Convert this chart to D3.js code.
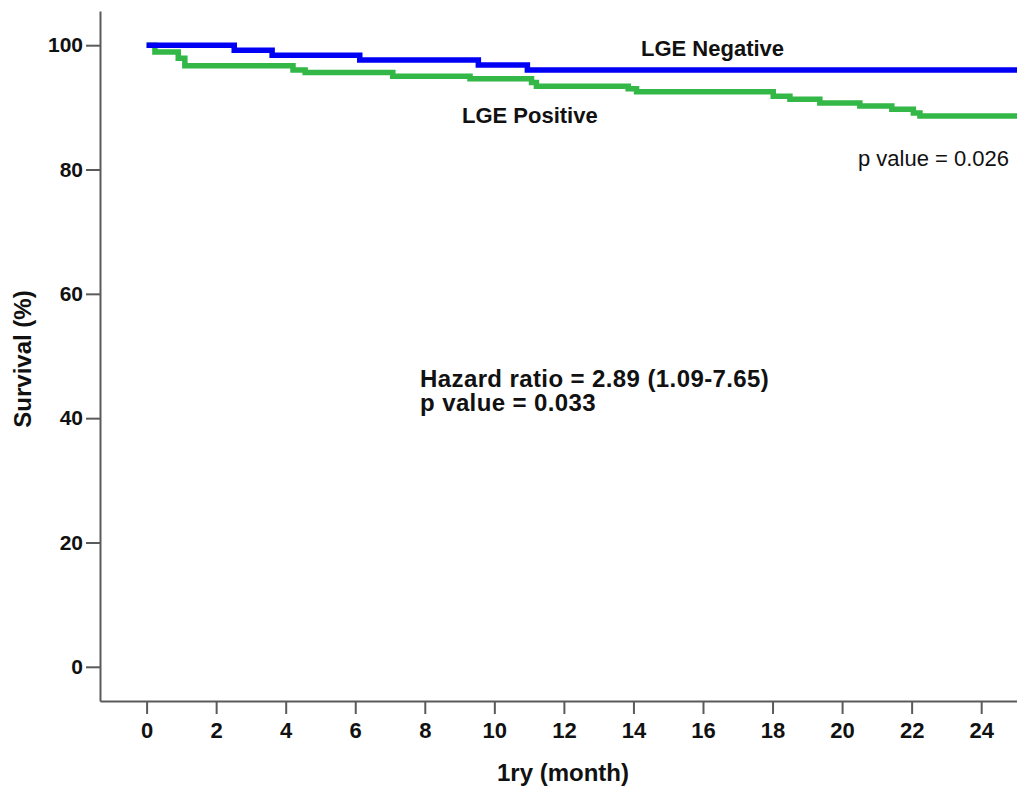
<!DOCTYPE html>
<html>
<head>
<meta charset="utf-8">
<script src="https://cdn.jsdelivr.net/npm/d3@7"></script>
<style>
  body { margin: 0; background: #fff; }
  svg { display: block; }
  .axis path, .axis line { stroke: #5a5a5a; stroke-width: 2; }
  .axis text { font-family: "Liberation Sans", Arial, sans-serif; font-weight: bold; fill: #111; }
  .x.axis text { font-size: 22px; }
  .y.axis text { font-size: 21px; }
  .curve { fill: none; stroke-width: 5.5; }
  .label { font-family: "Liberation Sans", Arial, sans-serif; fill: #111; }
</style>
</head>
<body>
<svg id="chart" width="1017" height="789"></svg>
<script>
// LGE Negative (blue) - Kaplan-Meier steps
const negTime = [0, 2.52, 3.61, 6.13, 9.54, 10.95, 25.2];
const negSurv = [100, 99.2, 98.4, 97.6, 96.8, 96.0, 96.0];

// LGE Positive (green)
const posTime = [0, 0.24, 0.91, 1.1, 4.21, 4.56, 7.08, 9.3, 11.07, 11.21, 13.85, 14.09,
                 18.02, 18.5, 19.36, 20.51, 21.43, 22.05, 22.24, 25.2];
const posSurv = [100, 98.9, 97.9, 96.7, 96.0, 95.6, 95.0, 94.6, 94.0, 93.4, 93.0, 92.5,
                 91.8, 91.3, 90.7, 90.2, 89.7, 89.1, 88.6, 88.6];

const xTicks = [0, 2, 4, 6, 8, 10, 12, 14, 16, 18, 20, 22, 24];
const yTicks = [0, 20, 40, 60, 80, 100];

const margin = { top: 11, right: 0, bottom: 88, left: 100 };
const width = 1017;
const height = 789;

const svg = d3.select("#chart");

const x = d3.scaleLinear()
  .domain([-1.34, 25.03])
  .range([margin.left, width - margin.right]);

const y = d3.scaleLinear()
  .domain([-5.5, 105.5])
  .range([height - margin.bottom, margin.top]);

svg.append("g")
  .attr("class", "x axis")
  .attr("transform", `translate(0,${height - margin.bottom})`)
  .call(d3.axisBottom(x).tickValues(xTicks).tickSize(13).tickSizeOuter(0).tickPadding(8));

svg.append("g")
  .attr("class", "y axis")
  .attr("transform", `translate(${margin.left},0)`)
  .call(d3.axisLeft(y).tickValues(yTicks).tickSize(14).tickSizeOuter(0).tickPadding(3));

const line = d3.line()
  .x(d => x(d[0]))
  .y(d => y(d[1]))
  .curve(d3.curveStepAfter);

svg.append("path")
  .datum(posTime.map((t, i) => [t, posSurv[i]]))
  .attr("class", "curve")
  .attr("stroke", "#33b847")
  .attr("d", line);

svg.append("path")
  .datum(negTime.map((t, i) => [t, negSurv[i]]))
  .attr("class", "curve")
  .attr("stroke", "#0000f5")
  .attr("d", line);

// annotations
svg.append("text").attr("class", "label")
  .attr("x", 641).attr("y", 56)
  .attr("font-size", 22).attr("font-weight", "bold")
  .text("LGE Negative");

svg.append("text").attr("class", "label")
  .attr("x", 462).attr("y", 123)
  .attr("font-size", 22).attr("font-weight", "bold")
  .text("LGE Positive");

svg.append("text").attr("class", "label")
  .attr("x", 858).attr("y", 166)
  .attr("font-size", 22)
  .attr("fill", "#222")
  .text("p value = 0.026");

svg.append("text").attr("class", "label")
  .attr("x", 420).attr("y", 387)
  .attr("font-size", 24).attr("font-weight", "bold")
  .attr("letter-spacing", 0.4)
  .text("Hazard ratio = 2.89 (1.09-7.65)");

svg.append("text").attr("class", "label")
  .attr("x", 420).attr("y", 411)
  .attr("font-size", 24).attr("font-weight", "bold")
  .attr("letter-spacing", 0.4)
  .text("p value = 0.033");

// axis titles
svg.append("text").attr("class", "label")
  .attr("x", 563).attr("y", 781)
  .attr("text-anchor", "middle")
  .attr("font-size", 24).attr("font-weight", "bold")
  .text("1ry (month)");

svg.append("text").attr("class", "label")
  .attr("transform", "translate(31,359) rotate(-90)")
  .attr("text-anchor", "middle")
  .attr("font-size", 24).attr("font-weight", "bold")
  .text("Survival (%)");
</script>
</body>
</html>
